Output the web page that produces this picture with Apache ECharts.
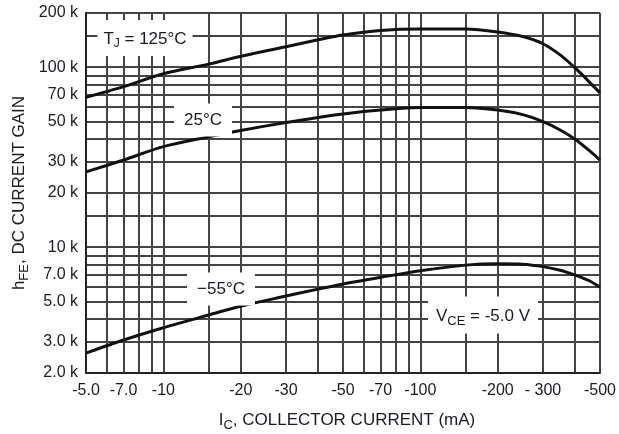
<!DOCTYPE html>
<html>
<head>
<meta charset="utf-8">
<script src="https://cdn.jsdelivr.net/npm/echarts@6.0.0/dist/echarts.min.js"></script>
<style>
  html, body { margin: 0; padding: 0; background: #fff; }
  #chart { width: 619px; height: 434px; }
</style>
</head>
<body>
<div id="chart"></div>
<script>
// collector current, mA (plotted as magnitude, labelled negative)
const current = [5, 7, 10, 15, 20, 30, 40, 50, 70, 100, 150, 200, 250, 300, 350, 400, 450, 500];

// hFE
const gain125 = [68000, 78000, 92000, 104000, 115000, 130000, 142000, 151000, 160000, 163000, 163000, 157000, 148000, 135000, 117000, 99000, 84000, 72000];
const gain25 = [26200, 30500, 36200, 41000, 44500, 49300, 52600, 55000, 57800, 59700, 59800, 57800, 54500, 49800, 44800, 39800, 34800, 30500];
const gainM55 = [2580, 3050, 3570, 4200, 4700, 5350, 5850, 6250, 6800, 7400, 7950, 8100, 8050, 7800, 7450, 7000, 6550, 6000];

// grid and label positions
const xGridValues = [5, 6, 7, 8, 9, 10, 15, 20, 30, 40, 50, 60, 70, 80, 90, 100, 150, 200, 300, 400, 500];
const xLabelValues = [5, 7, 10, 20, 30, 50, 70, 100, 200, 300, 500];
const xLabelText = ['-5.0', '-7.0', '-10', '-20', '-30', '-50', '-70', '-100', '-200', '- 300', '-500'];

const yGridValues = [2000, 3000, 4000, 5000, 6000, 7000, 8000, 9000, 10000, 15000, 20000, 30000, 40000, 50000, 60000, 70000, 80000, 90000, 100000, 150000, 200000];
const yLabelValues = [2000, 3000, 5000, 7000, 10000, 20000, 30000, 50000, 70000, 100000, 200000];
const yLabelText = ['2.0 k', '3.0 k', '5.0 k', '7.0 k', '10 k', '20 k', '30 k', '50 k', '70 k', '100 k', '200 k'];

const font = '"Liberation Sans", Arial, sans-serif';
const textColor = '#1a1a22';
const gridColor = '#444';

function pairs(ys) {
  return current.map((x, i) => [x, ys[i]]);
}

const chart = echarts.init(document.getElementById('chart'), null, { renderer: 'canvas' });

const curve = (name, ys) => ({
  name: name,
  type: 'line',
  data: pairs(ys),
  smooth: 0.3,
  showSymbol: false,
  lineStyle: { color: '#111', width: 3 },
  z: 5
});

const option = {
  animation: false,
  backgroundColor: '#fff',
  grid: { left: 86, right: 19, top: 13, bottom: 61 },
  xAxis: {
    type: 'log',
    logBase: 10,
    min: 5,
    max: 500,
    axisLine: { show: true, lineStyle: { color: '#222', width: 2 } },
    axisTick: { show: false, customValues: xGridValues },
    axisLabel: {
      customValues: xLabelValues,
      formatter: (v) => xLabelText[xLabelValues.indexOf(v)] ?? '',
      margin: 10,
      color: textColor,
      fontFamily: font,
      fontSize: 16
    },
    splitLine: { show: true, lineStyle: { color: gridColor, width: 2 } }
  },
  yAxis: {
    type: 'log',
    logBase: 10,
    min: 2000,
    max: 200000,
    axisLine: { show: true, lineStyle: { color: '#222', width: 2 } },
    axisTick: { show: false, customValues: yGridValues },
    axisLabel: {
      customValues: yLabelValues,
      formatter: (v) => yLabelText[yLabelValues.indexOf(v)] ?? '',
      margin: 8,
      color: textColor,
      fontFamily: font,
      fontSize: 16
    },
    splitLine: { show: true, lineStyle: { color: gridColor, width: 2 } }
  },
  series: [
    curve('125', gain125),
    curve('25', gain25),
    curve('-55', gainM55)
  ],
  graphic: [
    {
      type: 'text', x: 145, y: 38, z: 100,
      style: {
        text: '{t|T}{s|J}{t| = 125°C}',
        align: 'center', verticalAlign: 'middle',
        backgroundColor: '#fff', padding: [8, 6, 6, 6],
        fill: textColor,
        rich: {
          t: { fontFamily: font, fontSize: 17, fill: textColor },
          s: { fontFamily: font, fontSize: 12, fill: textColor, padding: [10, 0, 0, 0] }
        }
      }
    },
    {
      type: 'text', x: 203, y: 120, z: 100,
      style: {
        text: '25°C', font: '17px ' + font, fill: textColor,
        align: 'center', verticalAlign: 'middle',
        backgroundColor: '#fff', padding: [8, 10, 8, 10]
      }
    },
    {
      type: 'text', x: 221, y: 289, z: 100,
      style: {
        text: '\u221255°C', font: '17px ' + font, fill: textColor,
        align: 'center', verticalAlign: 'middle',
        backgroundColor: '#fff', padding: [8, 10, 8, 10]
      }
    },
    {
      type: 'text', x: 483, y: 315, z: 100,
      style: {
        text: '{t|V}{s|CE}{t| = -5.0 V}',
        align: 'center', verticalAlign: 'middle',
        backgroundColor: '#fff', padding: [8, 8, 6, 8],
        fill: textColor,
        rich: {
          t: { fontFamily: font, fontSize: 17, fill: textColor },
          s: { fontFamily: font, fontSize: 13, fill: textColor, padding: [10, 0, 0, 0] }
        }
      }
    },
    {
      type: 'text', x: 347, y: 420, z: 100,
      style: {
        text: '{t|I}{s|C}{t|, COLLECTOR CURRENT (mA)}',
        align: 'center', verticalAlign: 'middle',
        fill: textColor,
        rich: {
          t: { fontFamily: font, fontSize: 17, fill: textColor },
          s: { fontFamily: font, fontSize: 13, fill: textColor, padding: [10, 0, 0, 0] }
        }
      }
    },
    {
      type: 'text', x: 19, y: 193, rotation: Math.PI / 2, z: 100,
      style: {
        text: '{t|h}{s|FE}{t|, DC CURRENT GAIN}',
        align: 'center', verticalAlign: 'middle',
        fill: textColor,
        rich: {
          t: { fontFamily: font, fontSize: 17, fill: textColor },
          s: { fontFamily: font, fontSize: 13, fill: textColor, padding: [10, 0, 0, 0] }
        }
      }
    }
  ]
};

chart.setOption(option);
</script>
</body>
</html>
